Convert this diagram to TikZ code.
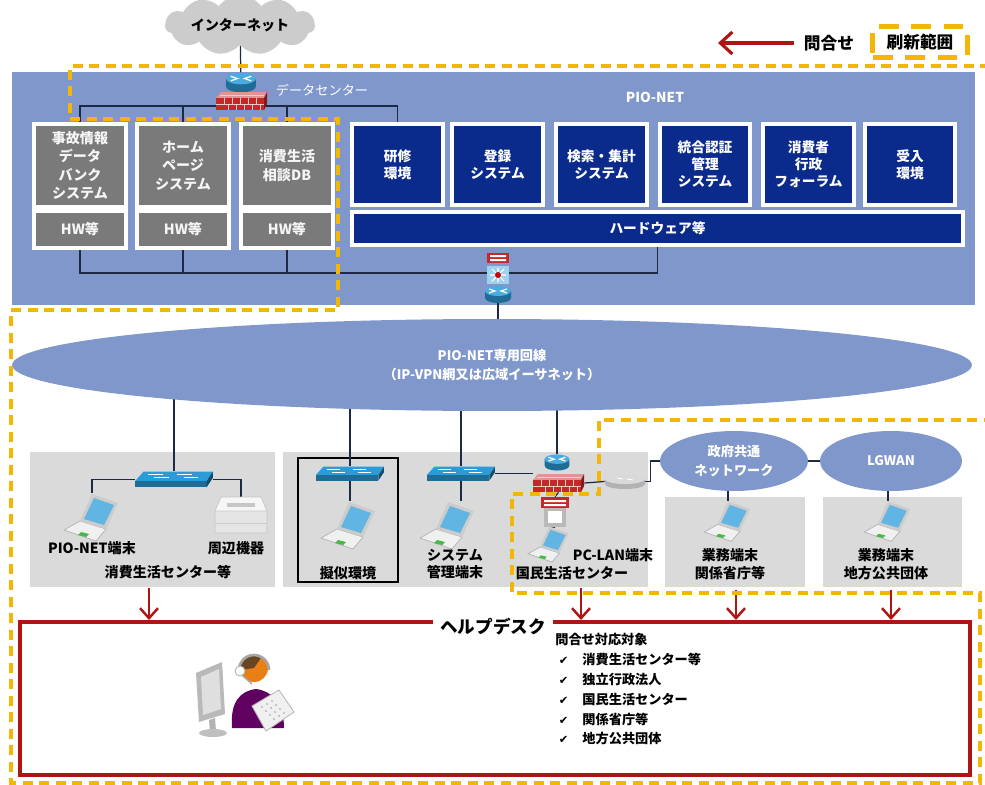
\documentclass[tikz,border=0pt]{standalone}
\usepackage{fontspec}
\setmainfont{Noto Sans CJK JP}
\newfontfamily\symfont{DejaVu Sans}
\usetikzlibrary{shapes.geometric,shapes.symbols,arrows.meta}

\definecolor{pioblue}{HTML}{8097CC}
\definecolor{pionavy}{HTML}{0A2A8C}
\definecolor{hwgray}{HTML}{7A7A7A}
\definecolor{lanpanel}{HTML}{DADADA}
\definecolor{scopeyel}{HTML}{F2B705}
\definecolor{askred}{HTML}{B01515}
\definecolor{netblue}{HTML}{2B9CD8}
\definecolor{fwred}{HTML}{C62828}
\definecolor{linkcol}{HTML}{1E2A44}

\pgfdeclarelayer{bg}
\pgfdeclarelayer{wires}
\pgfsetlayers{bg,wires,main}

\newcommand\chk{\hspace{2pt}{\symfont\fontsize{6.5}{8}\selectfont ✔}\hspace{8pt}}

\tikzset{
  lbl/.style={font=\bfseries\fontsize{8}{10.2}\selectfont, align=center, inner sep=0pt},
  oldsys/.style={fill=hwgray, draw=white, line width=0.08cm, text=white!92!gray,
    font=\bfseries\fontsize{8}{10.6}\selectfont, align=center, inner sep=0pt, minimum width=1.84cm},
  newsys/.style={fill=pionavy, draw=white, line width=0.08cm, text=white,
    font=\bfseries\fontsize{7.8}{9.6}\selectfont, align=center, inner sep=0pt},
  net/.style={ellipse, fill=pioblue, text=white, font=\bfseries\fontsize{7.5}{11}\selectfont,
    align=center, inner sep=0pt},
  panel/.style={fill=lanpanel, inner sep=0pt},
  wire/.style={draw=linkcol, line width=0.7pt},
  ask/.style={draw=askred, line width=1.4pt, -{Straight Barb[length=0.2cm,width=0.36cm]}},
  scopeline/.style={draw=scopeyel, line width=2pt, dash pattern=on 0.2cm off 0.13cm},
  hitbox/.style={inner sep=0pt, transform shape},
  % network icons
  router/.pic={
    \fill[netblue!70!black] (-13,-3) -- (-13,4) arc[start angle=180,end angle=0,x radius=13,y radius=5] -- (13,-3) -- cycle;
    \fill[netblue!85!white] (0,-3) ellipse[x radius=13,y radius=5];
    \draw[white, line width=0.7pt] (-9,-5) -- (-3,-3) -- (-9,-1) (9,-5) -- (3,-3) -- (9,-1);
    \node[hitbox, minimum width=0.52cm, minimum height=0.34cm] (-b) at (0,0.5) {};
  },
  grayrouter/.pic={
    \fill[gray!60] (-20,-2) -- (-20,3) arc[start angle=180,end angle=0,x radius=20,y radius=5] -- (20,-2) -- cycle;
    \fill[gray!30] (0,-2) ellipse[x radius=20,y radius=5];
    \draw[white, line width=0.5pt] (-8,-3) -- (-2,-2) (8,-1) -- (2,-2);
    \node[hitbox, minimum width=0.8cm, minimum height=0.3cm] (-b) at (0,0.5) {};
  },
  firewall/.pic={
    \fill[fwred!50!white] (-24,-3) -- (-19,-9) -- (27,-9) -- (24,-3) -- cycle;
    \fill[fwred!65!black] (24,-3) -- (27,-9) -- (27,3) -- (24,9) -- cycle;
    \fill[fwred] (-24,-3) rectangle (24,9);
    \draw[white!75!fwred, line width=0.5pt] (-24,3) -- (24,3)
      (-16,-3) -- (-16,3) (-8,-3) -- (-8,3) (0,-3) -- (0,3) (8,-3) -- (8,3) (16,-3) -- (16,3)
      (-12,3) -- (-12,9) (-4,3) -- (-4,9) (4,3) -- (4,9) (12,3) -- (12,9) (20,3) -- (20,9)
      (-20,-6) -- (24,-6);
    \node[hitbox, minimum width=1.02cm, minimum height=0.36cm] (-b) at (1.5,0) {};
  },
  switch/.pic={
    \fill[netblue] (-36,0) -- (-28,-9) -- (38,-9) -- (32,0) -- cycle;
    \fill[netblue!70!black] (-36,0) rectangle (32,6);
    \fill[netblue!50!black] (32,0) -- (38,-9) -- (38,-3) -- (32,6) -- cycle;
    \draw[white, line width=0.6pt] (-24,-6) -- (-10,-6) (-18,-3) -- (-4,-3)
      (4,-6) -- (18,-6) (10,-3) -- (24,-3);
    \node[hitbox, minimum width=1.48cm, minimum height=0.3cm] (-b) at (1,-1.5) {};
  },
  msswitch/.pic={
    \fill[netblue!45!white] (-11,-9) rectangle (11,9);
    \draw[white, line width=0.6pt] (-8,0) -- (8,0) (0,-7) -- (0,7) (-6,-6) -- (6,6) (-6,6) -- (6,-6);
    \fill[red!80!black] (0,0) circle[radius=3];
    \node[hitbox, minimum width=0.44cm, minimum height=0.36cm] (-b) at (0,0) {};
  },
  ids/.pic={
    \fill[fwred] (-11,-5) rectangle (11,5);
    \fill[white] (-8,-3) rectangle (8,-1) (-8,1) rectangle (8,3);
    \node[hitbox, minimum width=0.44cm, minimum height=0.2cm] (-b) at (0,0) {};
  },
  proxy/.pic={
    \fill[fwred] (-14,-15) rectangle (14,-4);
    \fill[white] (-11,-12) rectangle (11,-10) (-11,-8) rectangle (11,-6);
    \fill[gray!55] (-11,-4) rectangle (11,15);
    \fill[white] (-7,-1) rectangle (7,11);
    \node[hitbox, minimum width=0.56cm, minimum height=0.6cm] (-b) at (0,0) {};
  },
  laptop/.pic={
    \fill[gray!12] (-12,4) -- (14,12) -- (4,24) -- (-28,13) -- cycle;
    \draw[gray!60, line width=0.4pt] (-12,4) -- (14,12) -- (4,24) -- (-28,13) -- cycle;
    \fill[green!45!gray] (-11,15) -- (-3,17) -- (-6,20) -- (-14,18) -- cycle;
    \fill[gray!40] (-12,4) -- (0,-23) -- (26,-14) -- (14,12) -- cycle;
    \fill[netblue!75!white] (-8,2) -- (2,-19) -- (22,-12) -- (12,8) -- cycle;
    \node[hitbox, minimum width=1.08cm, minimum height=0.94cm] (-b) at (0,0) {};
  },
  printer/.pic={
    \fill[gray!20] (-26,-4) rectangle (26,18);
    \fill[gray!7] (-26,-4) -- (-20,-18) -- (20,-18) -- (26,-4) -- cycle;
    \draw[gray!45, line width=0.4pt] (-26,-4) rectangle (26,18) (-26,-4) -- (-20,-18) -- (20,-18) -- (26,-4);
    \fill[gray!45] (-14,-12) rectangle (14,-8);
    \draw[gray!40] (-26,8) -- (26,8);
    \node[hitbox, minimum width=1.04cm, minimum height=0.72cm] (-b) at (0,0) {};
  },
}

\begin{document}
\begin{tikzpicture}[x=0.02cm, y=-0.02cm]
\useasboundingbox (0,0) rectangle (985,785);

% backgrounds: data centre and LAN panels
\begin{pgfonlayer}{bg}
  \node[fill=pioblue, inner sep=0pt, minimum width=19.26cm, minimum height=4.66cm] (dc) at (493.5,188.5) {};
  \node[panel, minimum width=4.9cm, minimum height=2.7cm] (cpanel) at (152.5,519.5) {};
  \node[panel, minimum width=7.3cm, minimum height=2.7cm] (npanel) at (465.5,519.5) {};
  \node[panel, minimum width=2.8cm, minimum height=1.8cm] (gpanel) at (735,542) {};
  \node[panel, minimum width=2.78cm, minimum height=1.8cm] (lpanel) at (892.5,542) {};
  \node[draw=black, line width=1.2pt, inner sep=0pt, minimum width=2.0cm, minimum height=2.48cm] (sim) at (348,520) {};
\end{pgfonlayer}

% legend
\node[font=\bfseries\fontsize{9.5}{11}\selectfont, inner sep=0pt] (toi) at (829,43) {問合せ};
\coordinate (legtip) at (718,43);
\node[draw=scopeyel, line width=0.1cm, dash pattern=on 0.4cm off 0.25cm,
  font=\bfseries\fontsize{9.5}{11}\selectfont, minimum width=1.9cm, minimum height=0.62cm] (refresh) at (920,42) {刷新範囲};

% internet side
\node[cloud, cloud puffs=11, cloud puff arc=110, aspect=3.4, fill=gray!40, inner sep=0pt,
  minimum width=3.0cm, minimum height=0.82cm, font=\bfseries\fontsize{8}{10}\selectfont] (inet) at (240,25) {インターネット};
\pic[scale=1.15] (rt1) at (241,82) {router};
\pic (fw1) at (240,101) {firewall};
\node[text=white, font=\fontsize{7.5}{9}\selectfont, inner sep=0pt] (dclbl) at (322,90) {データセンター};
\node[text=white, font=\bfseries\fontsize{7.8}{9}\selectfont, inner sep=0pt] (piolbl) at (655,97) {PIO-NET};

% systems outside the new build
\node[oldsys, minimum height=1.66cm] (old1) at (80,165.5) {事故情報\\データ\\バンク\\システム};
\node[oldsys, minimum height=0.74cm] (hw1) at (80,229.5) {HW等};
\node[oldsys, minimum height=1.66cm] (old2) at (183,165.5) {ホーム\\ページ\\システム};
\node[oldsys, minimum height=0.74cm] (hw2) at (183,229.5) {HW等};
\node[oldsys, minimum height=1.66cm] (old3) at (287,165.5) {消費生活\\相談DB};
\node[oldsys, minimum height=0.74cm] (hw3) at (287,229.5) {HW等};

% PIO-NET systems
\node[newsys, minimum width=1.82cm, minimum height=1.62cm] (train) at (397.5,164.5) {研修\\環境};
\node[newsys, minimum width=1.82cm, minimum height=1.62cm] (reg) at (497.5,164.5) {登録\\システム};
\node[newsys, minimum width=1.82cm, minimum height=1.62cm] (search) at (601.5,164.5) {検索・集計\\システム};
\node[newsys, minimum width=1.82cm, minimum height=1.62cm] (auth) at (705,164.5) {統合認証\\管理\\システム};
\node[newsys, minimum width=1.82cm, minimum height=1.62cm] (forum) at (808.5,164.5) {消費者\\行政\\フォーラム};
\node[newsys, minimum width=1.82cm, minimum height=1.62cm] (accept) at (910,164.5) {受入\\環境};
\node[newsys, minimum width=12.22cm, minimum height=0.66cm] (hw) at (657.5,228.5) {ハードウェア等};

\coordinate (dcbus) at (240,106);
\coordinate (lanbus) at (498,273);

% uplink stack
\pic (ids) at (498,258) {ids};
\pic (msw) at (498,275) {msswitch};
\pic (rt2) at (498,294) {router};

% networks
\node[net, minimum width=19.2cm, minimum height=1.84cm] (vpn) at (492,365) {PIO-NET専用回線\\（IP-VPN網又は広域イーサネット）};
\node[net, minimum width=2.96cm, minimum height=1.2cm] (gov) at (734,461) {政府共通\\ネットワーク};
\node[net, minimum width=2.84cm, minimum height=1.2cm] (lg) at (891,461) {LGWAN};

% consumer centres
\pic[scale=1.05] (sw1) at (173,481) {switch};
\pic (lap1) at (92,517) {laptop};
\pic (prn) at (241,515) {printer};
\node[lbl] (lpio) at (92,548) {PIO-NET端末};
\node[lbl] (lper) at (236,548) {周辺機器};
\node[lbl] (lcc) at (168,572) {消費生活センター等};

% national centre
\pic[scale=0.92] (sw2) at (349,475) {switch};
\pic (lap2) at (349,525) {laptop};
\node[lbl] (lsim) at (348,573) {擬似環境};
\pic[scale=0.92] (sw3) at (460,475) {switch};
\pic (lap3) at (448,525) {laptop};
\node[lbl] (ladm) at (455,564) {システム\\管理端末};
\pic[scale=0.95] (rt3) at (557,462) {router};
\pic (fw2) at (557,483) {firewall};
\pic (grt) at (625,481) {grayrouter};
\pic (px) at (555,512) {proxy};
\pic[scale=0.75] (lap4) at (549,544) {laptop};
\node[lbl] (lpclan) at (613,555) {PC-LAN端末};
\node[lbl] (lnc) at (572,573) {国民生活センター};

% ministries and local government
\pic[scale=0.85] (lap5) at (728,521) {laptop};
\node[lbl] (lgov) at (730,564) {業務端末\\関係省庁等};
\pic[scale=0.85] (lap6) at (888,521) {laptop};
\node[lbl] (llg) at (886,564) {業務端末\\地方公共団体};

% help desk
\node[draw=askred, line width=2.3pt, inner sep=0pt, minimum width=19.0cm, minimum height=3.06cm] (help) at (495,698.5) {};
\node[fill=white, inner xsep=4pt, inner ysep=1pt, font=\bfseries\fontsize{10}{12}\selectfont] (hdlbl) at (493,627) {ヘルプデスク};
\node[anchor=north west, align=left, inner sep=0pt, font=\bfseries\fontsize{7.5}{11.3}\selectfont] (targets) at (555,633)
  {問合せ対応対象\\
   \chk 消費生活センター等\\
   \chk 独立行政法人\\
   \chk 国民生活センター\\
   \chk 関係省庁等\\
   \chk 地方公共団体};

% operator at the desk
\fill[gray!55] (196,673) -- (222,662) -- (225,714) -- (199,722) -- cycle;
\fill[gray!25] (201,677) -- (219,669) -- (221,709) -- (203,715) -- cycle;
\fill[gray!60] (209,720) -- (215,718) -- (216,731) -- (210,732) -- cycle;
\fill[gray!50] (213,733) ellipse[x radius=14, y radius=4];
\fill[violet!75!black] (232,728) .. controls (230,702) and (240,691) .. (256,689) .. controls (272,691) and (284,703) .. (284,728) -- cycle;
\fill[orange!65!brown] (254,668) circle[radius=14];
\fill[brown!55!black] (240,670) arc[start angle=180, end angle=300, radius=14] -- (254,668) -- cycle;
\draw[gray!70, line width=1.5pt] (239,670) arc[start angle=180, end angle=360, radius=15];
\fill[white] (240,671) circle[radius=5];
\draw[gray!60, line width=0.5pt] (240,671) circle[radius=5];
\draw[gray!70, line width=0.8pt] (242,675) -- (252,684);
\fill[gray!12] (252,706) -- (279,690) -- (294,712) -- (266,731) -- cycle;
\draw[gray!55, line width=0.5pt] (252,706) -- (279,690) -- (294,712) -- (266,731) -- cycle;
\foreach \i in {0,1,2,3} \foreach \j in {0,1,2}
  \fill[gray!55] (262+4*\i+5*\j,707+4*\i-3*\j) circle[radius=1.2];

% connections
\begin{pgfonlayer}{wires}
  \draw[wire] (inet) -- (rt1-b);
  \draw[wire] (old1.north) |- (dcbus) -| (train.north);
  \draw[wire] (old2.north) -- (old2.north |- dcbus);
  \draw[wire] (old3.north) -- (old3.north |- dcbus);
  \draw[wire] (hw1.south) |- (lanbus) -| (hw.south);
  \draw[wire] (hw2.south) -- (hw2.south |- lanbus);
  \draw[wire] (hw3.south) -- (hw3.south |- lanbus);
  \draw[wire] (rt2-b.south) -- (rt2-b.south |- vpn.center);
  \draw[wire] (sw1-b.north) -- (sw1-b.north |- vpn.center);
  \draw[wire] (sw1-b.west) -| (lap1-b.north);
  \draw[wire] (sw1-b.east) -| (prn-b.north);
  \draw[wire] (sw2-b.north) -- (sw2-b.north |- vpn.center);
  \draw[wire] (sw2-b.south) -- (sw2-b.south |- lap2-b.north);
  \draw[wire] (sw3-b.north) -- (sw3-b.north |- vpn.center);
  \draw[wire] (sw3-b.south) -- (sw3-b.south |- lap3-b.north);
  \draw[wire] (sw3-b.east) -- (sw3-b.east -| fw2-b.west);
  \draw[wire] (rt3-b.north) -- (rt3-b.north |- vpn.center);
  \draw[wire] (fw2-b.east) -- (grt-b.west);
  \draw[wire] (grt-b.east) -- ++(5,0) |- (gov.west);
  \draw[wire] (gov) -- (lg);
  \draw[wire] (fw2-b.south) -- (px-b.north);
  \draw[wire] (px-b.south) -- (lap4-b.north);
  \draw[wire] (lap5-b.north) -- (lap5-b.north |- gov.center);
  \draw[wire] (lap6-b.north) -- (lap6-b.north |- lg.center);
\end{pgfonlayer}

% inquiries to the help desk
\draw[ask, line width=1.8pt, shorten <=0.2cm, -{Straight Barb[length=0.24cm,width=0.44cm]}] (toi.west) -- (legtip);
\coordinate (q1) at (149,588);
\coordinate (q2) at (581,588);
\coordinate (q3) at (736,590);
\coordinate (q4) at (891,590);
\draw[ask] (q1) -- (q1 |- help.north);
\draw[ask] (q2) -- (q2 |- help.north);
\draw[ask] (q3) -- (q3 |- help.north);
\draw[ask] (q4) -- (q4 |- help.north);

% renewal scope
\draw[scopeline] (990,66) -- (70,66) -- (70,119) -- (338,119) -- (338,310) -- (11,310) -- (11,783)
  -- (980,783) -- (980,593) -- (512,593) -- (512,494) -- (599,494) -- (599,420) -- (990,420);
\end{tikzpicture}
\end{document}
